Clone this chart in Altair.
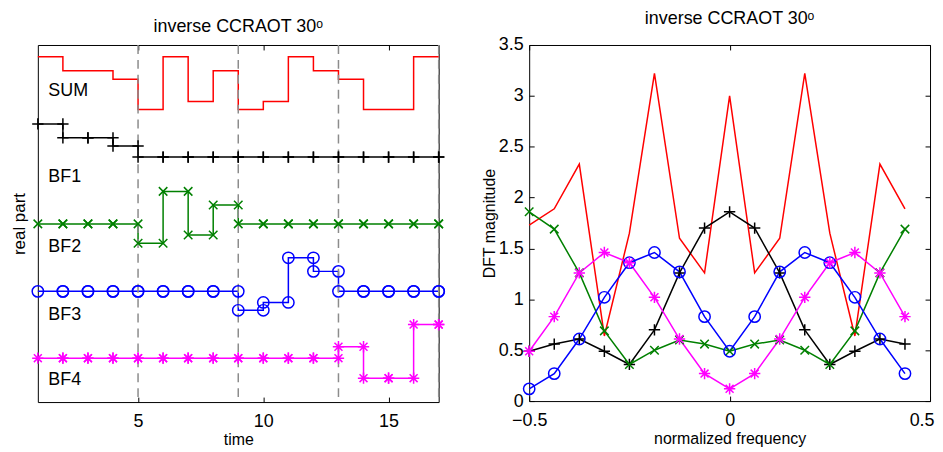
import altair as alt
import pandas as pd

# ---------------- data: left panel (stairs, real part) ----------------
time = list(range(1, 18))
names = ["SUM", "BF1", "BF2", "BF3", "BF4"]
colors = ["#ff0000", "#000000", "#008000", "#0000ff", "#ff00ff"]

SUM = [9.67, 9.28, 9.28, 9.04, 8.19, 9.67, 8.42, 9.28, 8.19, 8.42, 9.67, 9.28, 9.04, 8.19, 8.19, 9.67, 9.67]
BF1 = [7.79, 7.40, 7.40, 7.17, 6.86, 6.86, 6.86, 6.86, 6.86, 6.86, 6.86, 6.86, 6.86, 6.86, 6.86, 6.86, 6.86]
BF2 = [4.99, 4.99, 4.99, 4.99, 4.45, 5.90, 4.68, 5.52, 4.99, 4.99, 4.99, 4.99, 4.99, 4.99, 4.99, 4.99, 4.99]
BF3 = [3.10, 3.10, 3.10, 3.10, 3.10, 3.10, 3.10, 3.10, 2.57, 2.79, 4.04, 3.66, 3.10, 3.10, 3.10, 3.10, 3.10]
BF4 = [1.23, 1.23, 1.23, 1.23, 1.23, 1.23, 1.23, 1.23, 1.23, 1.23, 1.23, 1.23, 1.55, 0.67, 0.67, 2.17, 2.17]

dash_times = [5, 9, 13, 17]
label_t = [1.42, 1.42, 1.42, 1.42, 1.42]
label_y = [8.72, 6.30, 4.35, 2.45, 0.62]

# ---------------- data: right panel (DFT magnitude) ----------------
freq = [-0.5, -0.4375, -0.375, -0.3125, -0.25, -0.1875, -0.125, -0.0625,
        0.0, 0.0625, 0.125, 0.1875, 0.25, 0.3125, 0.375, 0.4375]
M_SUM = [1.73, 1.89, 2.33, 0.64, 1.65, 3.22, 1.60, 1.26, 3.00, 1.26, 1.60, 3.22, 1.65, 0.64, 2.33, 1.89]
M_BF1 = [0.49, 0.56, 0.61, 0.49, 0.36, 0.70, 1.26, 1.70, 1.86, 1.70, 1.26, 0.70, 0.36, 0.49, 0.61, 0.56]
M_BF2 = [1.86, 1.69, 1.26, 0.69, 0.36, 0.50, 0.60, 0.56, 0.49, 0.56, 0.60, 0.50, 0.36, 0.69, 1.26, 1.69]
M_BF3 = [0.12, 0.27, 0.61, 1.02, 1.36, 1.46, 1.27, 0.83, 0.49, 0.83, 1.27, 1.46, 1.36, 1.02, 0.61, 0.27]
M_BF4 = [0.49, 0.83, 1.26, 1.46, 1.36, 1.02, 0.61, 0.27, 0.12, 0.27, 0.61, 1.02, 1.36, 1.46, 1.26, 0.83]

left_series = [SUM, BF1, BF2, BF3, BF4]
right_series = [M_SUM, M_BF1, M_BF2, M_BF3, M_BF4]

FONT = "Liberation Sans"
PLUS = "M-1,0L1,0M0,-1L0,1"
XMARK = "M-0.75,-0.75L0.75,0.75M-0.75,0.75L0.75,-0.75"
STAR = "M-1,0L1,0M0,-1L0,1M-0.7,-0.7L0.7,0.7M-0.7,0.7L0.7,-0.7"
shape_range = ["circle", PLUS, XMARK, "circle", STAR]

color_scale = alt.Scale(domain=names, range=colors)
shape_scale = alt.Scale(domain=names, range=shape_range)

# stairs vertices (MATLAB style: markers at every corner)
rows = []
for name, vals in zip(names, left_series):
    k = 0
    for i in range(len(time)):
        rows.append({"s": name, "t": time[i], "v": vals[i], "o": k}); k += 1
        if i < len(time) - 1:
            rows.append({"s": name, "t": time[i + 1], "v": vals[i], "o": k}); k += 1
left_df = pd.DataFrame(rows)
left_pts = left_df[left_df["s"] != "SUM"]

W, H = 403, 359
W2, H2 = 403, 358

def tick_axis(orient, offset, values):
    return alt.Axis(orient=orient, offset=offset, values=values, labels=False,
                    domain=False, title=None, grid=False, ticks=True, tickSize=5,
                    tickColor="black", tickWidth=1)

xs_left = alt.Scale(domain=[1, 17], nice=False)
ys_left = alt.Scale(domain=[0, 10], nice=False)

left_lines = alt.Chart(left_df).mark_line(strokeWidth=1.5).encode(
    x=alt.X("t:Q", scale=xs_left,
            axis=alt.Axis(orient="bottom", values=[5, 10, 15], ticks=False, domain=False, grid=False,
                          labelFontSize=18, labelPadding=11, labelFlush=False, title="time",
                          titleFontSize=16, titleFontWeight="normal", titlePadding=1)),
    y=alt.Y("v:Q", scale=ys_left,
            axis=alt.Axis(orient="left", labels=False, ticks=False, domain=False, grid=False,
                          title="real part", titleFontSize=17, titleFontWeight="normal",
                          titlePadding=9, minExtent=0)),
    order="o:Q",
    color=alt.Color("s:N", scale=color_scale, legend=None),
    detail="s:N",
)

left_points = alt.Chart(left_pts).mark_point(filled=False, size=130, strokeWidth=1.5, opacity=1).encode(
    x=alt.X("t:Q", scale=xs_left, axis=tick_axis("top", -H, [5, 10, 15])),
    y=alt.Y("v:Q", scale=ys_left, axis=None),
    shape=alt.Shape("s:N", scale=shape_scale, legend=None),
    color=alt.Color("s:N", scale=color_scale, legend=None),
)

dash_df = pd.DataFrame({"t": dash_times})
left_dash = alt.Chart(dash_df).mark_rule(color="#8c8c8c", strokeDash=[9, 6], strokeWidth=1.5).encode(
    x=alt.X("t:Q", scale=xs_left, axis=tick_axis("bottom", -H, [5, 10, 15])),
)

lab_df = pd.DataFrame({"name": names, "t": label_t, "v": label_y})
left_text = alt.Chart(lab_df).mark_text(align="left", baseline="middle", fontSize=18,
                                        font=FONT, color="black").encode(
    x=alt.X("t:Q", scale=xs_left, axis=None),
    y=alt.Y("v:Q", scale=ys_left, axis=None),
    text="name:N",
)

TITLE = "inverse CCRAOT 30ᵒ"

left = alt.layer(left_lines, left_dash, left_points, left_text).resolve_axis(
    x="independent", y="independent"
).properties(
    width=W, height=H,
    title=alt.TitleParams(TITLE, fontSize=18, fontWeight="normal",
                          font=FONT, offset=8, anchor="middle"),
)

# ---------------- right panel ----------------
rrows = []
for name, vals in zip(names, right_series):
    for f, m in zip(freq, vals):
        rrows.append({"s": name, "f": f, "m": m})
right_df = pd.DataFrame(rrows)
right_pts = right_df[right_df["s"] != "SUM"]

xs_r = alt.Scale(domain=[-0.5, 0.5], nice=False)
ys_r = alt.Scale(domain=[0, 3.5], nice=False)
yvals = [0, 0.5, 1, 1.5, 2, 2.5, 3, 3.5]

right_lines = alt.Chart(right_df).mark_line(strokeWidth=1.5).encode(
    x=alt.X("f:Q", scale=xs_r,
            axis=alt.Axis(orient="bottom", values=[-0.5, 0, 0.5], format="~g", ticks=False, domain=False,
                          grid=False, labelFontSize=18, labelPadding=11, labelFlush=False,
                          labelAlign=alt.ExprRef(expr="datum.value > 0.4 ? 'right' : 'center'"),
                          labelOffset=alt.ExprRef(expr="datum.value > 0.4 ? 4 : 0"),
                          title="normalized frequency", titleFontSize=16,
                          titleFontWeight="normal", titlePadding=1)),
    y=alt.Y("m:Q", scale=ys_r,
            axis=alt.Axis(orient="left", values=yvals, format="~g", ticks=False, domain=False, grid=False,
                          labelFontSize=18, labelPadding=6, labelFlush=False, title="DFT magnitude",
                          titleFontSize=16, titleFontWeight="normal", titlePadding=1, minExtent=0)),
    color=alt.Color("s:N", scale=color_scale, legend=None),
    detail="s:N",
)

right_points = alt.Chart(right_pts).mark_point(filled=False, size=130, strokeWidth=1.5, opacity=1).encode(
    x=alt.X("f:Q", scale=xs_r, axis=tick_axis("top", -H2, [-0.5, 0, 0.5])),
    y=alt.Y("m:Q", scale=ys_r, axis=tick_axis("right", -W2, yvals)),
    shape=alt.Shape("s:N", scale=shape_scale, legend=None),
    color=alt.Color("s:N", scale=color_scale, legend=None),
)

right_ghost = alt.Chart(right_df).mark_point(opacity=0).encode(
    x=alt.X("f:Q", scale=xs_r, axis=tick_axis("bottom", -H2, [-0.5, 0, 0.5])),
    y=alt.Y("m:Q", scale=ys_r, axis=tick_axis("left", -W2, yvals)),
)

right = alt.layer(right_lines, right_points, right_ghost).resolve_axis(
    x="independent", y="independent"
).properties(
    width=W2, height=H2,
    title=alt.TitleParams(TITLE, fontSize=18, fontWeight="normal",
                          font=FONT, offset=8, anchor="middle"),
)

chart = alt.hconcat(left, right, spacing=32).properties(
    padding={"left": 2, "top": 0, "right": 0, "bottom": -1}
).configure_view(
    stroke="black", strokeWidth=1
).configure_axis(
    labelFont=FONT, titleFont=FONT, labelColor="black", titleColor="black"
).configure_title(
    font=FONT, color="black"
)

chart.save("out.html", embed_options={"renderer": "svg", "actions": False})
